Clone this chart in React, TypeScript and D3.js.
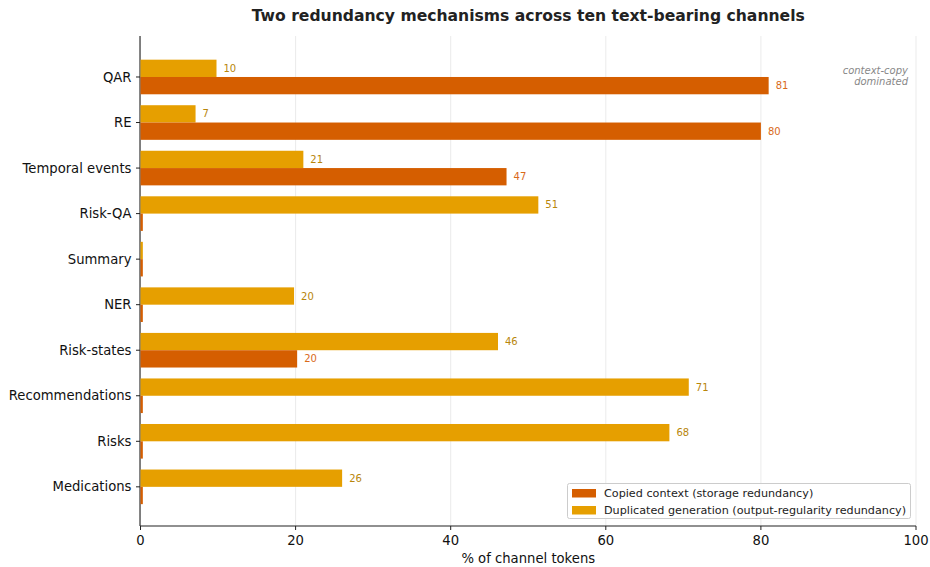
import React from 'react';
import * as d3 from 'd3';

// channels, top to bottom
const channels = [
  'QAR',
  'RE',
  'Temporal events',
  'Risk-QA',
  'Summary',
  'NER',
  'Risk-states',
  'Recommendations',
  'Risks',
  'Medications',
];
// % of channel tokens
const copiedContext = [81, 80, 47.2, 0.3, 0.3, 0.3, 20.2, 0.3, 0.3, 0.3];
const duplicatedGen = [9.8, 7.1, 21, 51.3, 0.3, 19.8, 46.1, 70.7, 68.2, 26];
const xTicks = [0, 20, 40, 60, 80, 100];

const W = 930;
const H = 567;
const left = 140.5;
const right = 916;
const top = 36;
const bottom = 526;
const font = '"DejaVu Sans", Verdana, sans-serif';
const ORANGE = '#D55E00';
const YELLOW = '#E69F00';

export default function App() {
  const x = d3.scaleLinear().domain([0, 100]).range([left, right]);
  // category index -> y center, matplotlib-like margins around the bars
  const y = d3.scaleLinear().domain([-0.9, 9.86]).range([top, bottom]);
  const barH = y(0.38) - y(0);

  const renderBars = (values: number[], offset: number, color: string, labelColor: string) =>
    values.map((v, i) => {
      const cy = y(i + offset);
      return (
        <g key={i}>
          <rect x={x(0)} y={cy - barH / 2} width={x(v) - x(0)} height={barH} fill={color} />
          {v >= 1 && (
            <text
              x={x(v) + 7}
              y={cy}
              dy="0.35em"
              fontSize={10}
              fill={labelColor}
            >
              {Math.round(v)}
            </text>
          )}
        </g>
      );
    });

  return (
    <svg width={W} height={H} style={{ position: 'absolute', left: 0, top: 0 }} fontFamily={font}>
      <rect width={W} height={H} fill="white" />
      <text x={(left + right) / 2} y={21} textAnchor="middle" fontSize={15.6} fontWeight="bold" fill="#222">
        Two redundancy mechanisms across ten text-bearing channels
      </text>

      {/* grid */}
      {xTicks.map((t) => (
        <line key={t} x1={x(t)} x2={x(t)} y1={top} y2={bottom} stroke="#ebebeb" strokeWidth={1} />
      ))}

      {/* spines */}
      <line x1={left - 0.5} x2={left - 0.5} y1={top} y2={bottom} stroke="#222" strokeWidth={1.1} />
      <line x1={left - 0.5} x2={right} y1={bottom} y2={bottom} stroke="#222" strokeWidth={1.1} />

      {renderBars(duplicatedGen, -0.19, YELLOW, '#b8860b')}
      {renderBars(copiedContext, 0.19, ORANGE, '#d96a1a')}

      {/* y axis */}
      {channels.map((c, i) => (
        <g key={c}>
          <line x1={left - 4.5} x2={left - 0.5} y1={y(i)} y2={y(i)} stroke="#222" />
          <text x={left - 9} y={y(i)} dy="0.35em" textAnchor="end" fontSize={13.2} fill="#111">
            {c}
          </text>
        </g>
      ))}

      {/* x axis */}
      {xTicks.map((t) => (
        <g key={t}>
          <line x1={x(t)} x2={x(t)} y1={bottom} y2={bottom + 4} stroke="#222" />
          <text x={x(t)} y={bottom + 19} textAnchor="middle" fontSize={13.2} fill="#111">
            {t}
          </text>
        </g>
      ))}
      <text x={(left + right) / 2} y={563} textAnchor="middle" fontSize={13.2} fill="#111">
        % of channel tokens
      </text>

      {/* annotation */}
      <text x={908} y={74} textAnchor="end" fontSize={10} fontStyle="italic" fill="#888">
        context-copy
      </text>
      <text x={908} y={85} textAnchor="end" fontSize={10} fontStyle="italic" fill="#888">
        dominated
      </text>

      {/* legend */}
      <g>
        <rect x={567.5} y={483.5} width={343} height={35} rx={2} fill="white" fillOpacity={0.85} stroke="#ccc" />
        <rect x={572} y={489} width={24} height={8.5} fill={ORANGE} />
        <text x={604} y={493} dy="0.35em" fontSize={11.2} fill="#222">
          Copied context (storage redundancy)
        </text>
        <rect x={572} y={506} width={24} height={8.5} fill={YELLOW} />
        <text x={604} y={510} dy="0.35em" fontSize={11.2} fill="#222">
          Duplicated generation (output-regularity redundancy)
        </text>
      </g>
    </svg>
  );
}
